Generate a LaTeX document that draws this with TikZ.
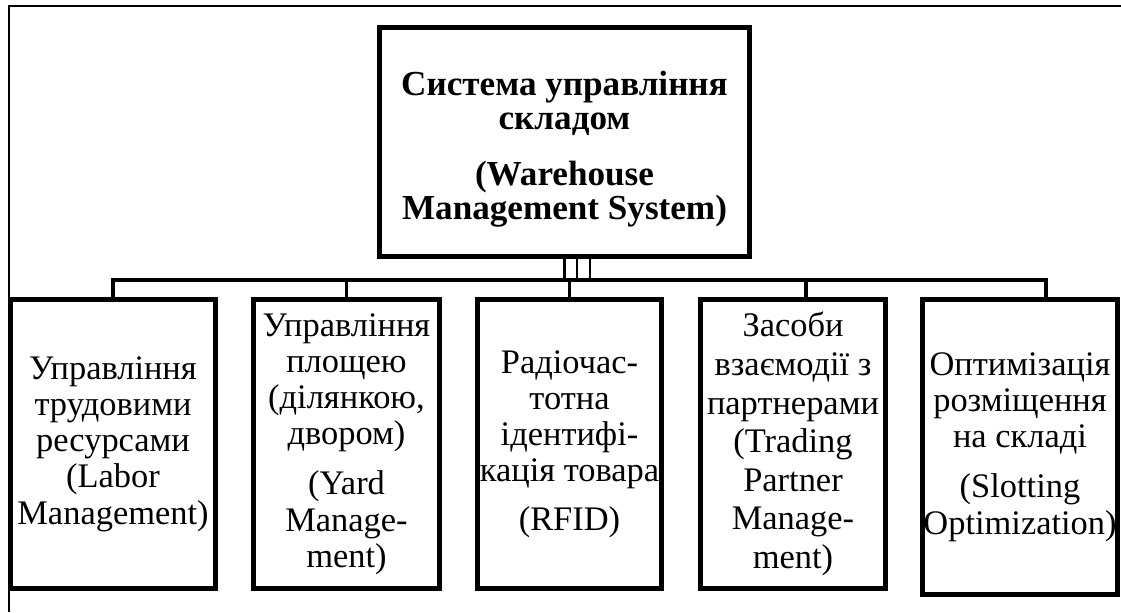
\documentclass[tikz,border=0pt]{standalone}
\usepackage{fontspec}
\setmainfont{Liberation Serif}
\usetikzlibrary{calc}
\usetikzlibrary{positioning}

\begin{document}
\begin{tikzpicture}[
        x=0.02cm, y=-0.02cm,
        unitbox/.style={
            rectangle, draw=black, line width=2.8pt,
            inner sep=0pt, align=center,
            minimum height=5.78cm,
            font=\fontsize{19.6}{20.6}\selectfont,
        },
        link/.style={draw=black, line width=2.2pt},
    ]
        \useasboundingbox (0,0) rectangle (1121,612);

        % page frame (only top and left are visible)
        \draw [line width=1pt] (1121,6) -- (9,6) -- (9,612);

        \node (wms) at(564.5,142) [
            rectangle, draw=black, line width=2.8pt,
            minimum width=7.4cm, minimum height=4.58cm,
            inner sep=0pt, align=center,
            font=\bfseries\fontsize{20}{17.5}\selectfont,
        ] {\rule{0pt}{22pt}Система управління\\[2pt]складом\\[14.5pt](Warehouse\\Management System)};

        \node (labor) at(113,444) [unitbox, minimum width=4.1cm]
            {Управління\\трудовими\\ресурсами\\(Labor\\Management)};
        \node (yard) at(346.5,444) [unitbox, minimum width=3.72cm]
            {Управління\\площею\\(ділянкою,\\двором)\\[8pt](Yard\\Manage-\\ment)};
        \node (rfid) at(569.5,444) [unitbox, minimum width=3.68cm]
            {Радіочас-\\тотна\\ідентифі-\\кація товара\\[7pt](RFID)};
        \node (partner) at(793,444) [
            unitbox, minimum width=3.7cm,
            font=\fontsize{19.6}{22}\selectfont,
        ] {Засоби\\взаємодії з\\партнерами\\(Trading\\Partner\\Manage-\\ment)};
        \node (slot) at(1020,447) [unitbox, minimum width=3.9cm, minimum height=5.9cm]
            {Оптимізація\\розміщення\\на складі\\[8pt](Slotting\\Optimization)};

        % connectors
        \coordinate (barL) at (113,280);
        \coordinate (barR) at (1046,280);
        \coordinate (drop4) at ($(partner.north)+(13,0)$);
        \draw [link] (labor.north) -- (barL) -- (barR) -- (barR |- slot.north);
        \draw [link] (yard.north) -- (yard.north |- barL);
        \draw [link] (rfid.north) -- (rfid.north |- barL);
        \draw [link] (drop4) -- (drop4 |- barL);
        \foreach \dx in {0,12.5,25.5} {
            \draw [link, line width=1.6pt] ($(wms.south)+(\dx,0)$) -- ++(0,23.5);
        }
\end{tikzpicture}
\end{document}
